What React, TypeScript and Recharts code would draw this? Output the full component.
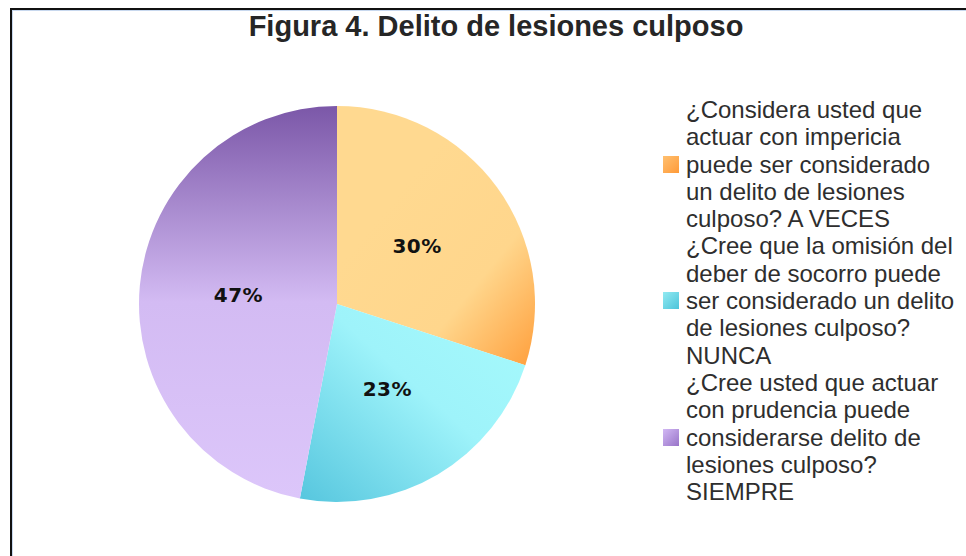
import { PieChart, Pie, Cell, Legend } from "recharts";

const answers = ["A VECES", "NUNCA", "SIEMPRE"];
const shares = [30, 23, 47];
// legend text, already broken into the lines the original shows
const legendLines = [
  ["¿Considera usted que", "actuar con impericia", "puede ser considerado", "un delito de lesiones", "culposo? A VECES"],
  ["¿Cree que la omisión del", "deber de socorro puede", "ser considerado un delito", "de lesiones culposo?", "NUNCA"],
  ["¿Cree usted que actuar", "con prudencia puede", "considerarse delito de", "lesiones culposo?", "SIEMPRE"],
];
const swatches = [
  "linear-gradient(135deg, #FFC070, #FF9A38)",
  "linear-gradient(135deg, #92EAF2, #4CC4DA)",
  "linear-gradient(135deg, #D2B8F4, #9874C8)",
];
const fills = ["url(#gOrange)", "url(#gCyan)", "url(#gPurple)"];

const data = answers.map((a, i) => ({
  name: legendLines[i].join(" "),
  answer: a,
  value: shares[i],
}));

const RADIAN = Math.PI / 180;
const LINE = 27.3;

function renderLabel(props: any) {
  const { cx, cy, midAngle, outerRadius, value } = props;
  const r = outerRadius * 0.5;
  const x = cx + r * Math.cos(-midAngle * RADIAN);
  const y = cy + r * Math.sin(-midAngle * RADIAN);
  return (
    <text
      x={x}
      y={y}
      textAnchor="middle"
      dominantBaseline="central"
      fill="#111"
      style={{ fontFamily: "DejaVu Sans", fontWeight: "bold", fontSize: 20, letterSpacing: 0.5 }}
    >
      {value}%
    </text>
  );
}

function LegendBox() {
  return (
    <div style={{ fontFamily: "Liberation Sans, Arial", fontSize: 24, color: "#2e2e2e", lineHeight: LINE + "px" }}>
      {legendLines.map((lines, i) => (
        <div key={i} style={{ position: "relative", paddingLeft: 23 }}>
          <span
            style={{
              position: "absolute",
              left: 0,
              top: 2 * LINE + 5,
              width: 16,
              height: 17,
              background: swatches[i],
            }}
          />
          {lines.map((l, j) => (
            <div key={j} style={{ whiteSpace: "nowrap" }}>{l}</div>
          ))}
        </div>
      ))}
    </div>
  );
}

export default function App() {
  return (
    <div style={{ position: "absolute", left: 0, top: 0, width: 966, height: 556, background: "#fff", overflow: "hidden" }}>
      <div
        style={{
          position: "absolute",
          left: 10,
          top: 8,
          width: 970,
          height: 570,
          border: "2px solid #111",
          boxShadow: "inset 1px 1px 0 #c8d8ee",
        }}
      />
      <div
        style={{
          position: "absolute",
          top: 10,
          left: 0,
          width: 992,
          textAlign: "center",
          fontFamily: "Liberation Sans, Arial",
          fontWeight: "bold",
          fontSize: 29,
          color: "#262626",
        }}
      >
        Figura 4. Delito de lesiones culposo
      </div>
      <div style={{ position: "absolute", left: 0, top: 0 }}>
        <PieChart width={966} height={556}>
          <defs>
            <linearGradient id="gOrange" x1="0.35" y1="0.3" x2="1" y2="1">
              <stop offset="0" stopColor="#FFD990" />
              <stop offset="0.55" stopColor="#FFD68C" />
              <stop offset="1" stopColor="#FF9F3C" />
            </linearGradient>
            <linearGradient id="gCyan" x1="1" y1="0" x2="0" y2="1">
              <stop offset="0" stopColor="#A6FAFC" />
              <stop offset="0.45" stopColor="#9EF3FA" />
              <stop offset="1" stopColor="#56C6DE" />
            </linearGradient>
            <linearGradient id="gPurple" x1="0" y1="0" x2="0" y2="1">
              <stop offset="0" stopColor="#7B57A8" />
              <stop offset="0.5" stopColor="#D3BBF3" />
              <stop offset="1" stopColor="#DCC6FA" />
            </linearGradient>
          </defs>
          <Pie
            data={data}
            dataKey="value"
            nameKey="name"
            cx={332}
            cy={299}
            outerRadius={198}
            startAngle={90}
            endAngle={-270}
            stroke="none"
            label={renderLabel}
            labelLine={false}
            isAnimationActive={false}
          >
            {data.map((d, i) => (
              <Cell key={d.answer} fill={fills[i]} />
            ))}
          </Pie>
          <Legend
            layout="vertical"
            verticalAlign="top"
            align="right"
            content={() => <LegendBox />}
            wrapperStyle={{ left: 663, top: 96, width: 310 }}
          />
        </PieChart>
      </div>
    </div>
  );
}
